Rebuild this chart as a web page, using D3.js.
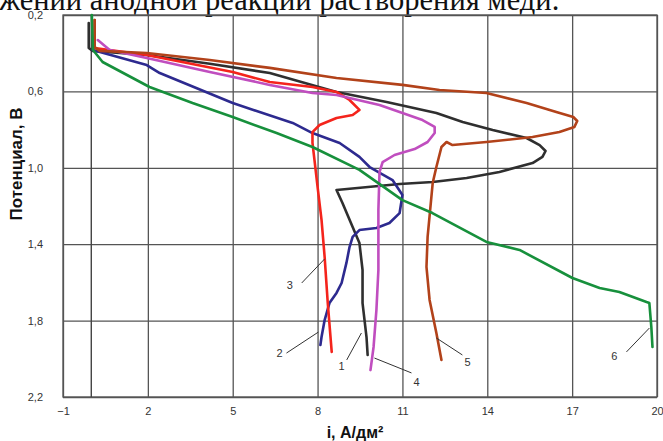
<!DOCTYPE html>
<html>
<head>
<meta charset="utf-8">
<script src="https://cdn.jsdelivr.net/npm/d3@7"></script>
<style>
    body { margin: 0; background: #fff; }
    svg { display: block; }
</style>
</head>
<body>
<div id="chart"></div>
<script>
// Анодные поляризационные кривые (i, E)

const xTicks = [-1, 2, 5, 8, 11, 14, 17, 20];
const yTicks = [0.2, 0.6, 1.0, 1.4, 1.8, 2.2];

// кривая 1 (чёрная)
const curve1 = [
    [-0.09, 0.242], [-0.09, 0.373], [0.05, 0.388], [1.96, 0.409], [4.19, 0.455],
    [6.31, 0.504], [8.67, 0.603], [10.44, 0.655], [12.2, 0.713], [13.13, 0.76],
    [14.19, 0.802], [15.39, 0.844], [15.85, 0.881], [16.06, 0.912], [15.95, 0.943],
    [15.6, 0.975], [14.43, 1.022], [13.27, 1.053], [12.07, 1.074], [10.9, 1.085],
    [8.67, 1.116], [8.88, 1.184], [9.24, 1.31], [9.48, 1.394], [9.59, 1.535],
    [9.59, 1.708], [9.73, 1.886], [9.77, 1.98]
];
// кривая 2 (синяя)
const curve2 = [
    [0.05, 0.383], [1.96, 0.462], [2.42, 0.504], [5.0, 0.661], [7.12, 0.765],
    [7.82, 0.818], [8.78, 0.87], [9.48, 0.943], [9.84, 0.996], [10.65, 1.064],
    [11.0, 1.142], [10.9, 1.237], [10.54, 1.289], [10.08, 1.315], [9.48, 1.326],
    [9.24, 1.362], [9.13, 1.415], [9.02, 1.498], [8.85, 1.603], [8.67, 1.655],
    [8.42, 1.708], [8.25, 1.797], [8.14, 1.886], [8.1, 1.928]
];
// кривая 3 (красная)
const curve3 = [
    [0.12, 0.226], [0.12, 0.373], [1.96, 0.409], [5.0, 0.498], [6.31, 0.551],
    [7.82, 0.577], [8.67, 0.603], [9.13, 0.645], [9.48, 0.697], [9.24, 0.724],
    [8.67, 0.739], [8.07, 0.776], [7.82, 0.813], [7.82, 0.87], [7.89, 0.959],
    [8.0, 1.1], [8.14, 1.273], [8.25, 1.467], [8.36, 1.708], [8.5, 1.964]
];
// кривая 4 (сиреневая)
const curve4 = [
    [0.23, 0.331], [0.65, 0.383], [1.96, 0.425], [4.19, 0.498], [6.31, 0.566],
    [7.82, 0.608], [8.67, 0.619], [10.19, 0.671], [11.71, 0.75], [12.14, 0.786],
    [12.14, 0.818], [11.89, 0.865], [11.43, 0.902], [10.72, 0.933], [10.3, 0.97],
    [10.19, 1.022], [10.15, 1.221], [10.15, 1.535], [10.08, 1.745], [9.98, 1.938],
    [9.87, 2.059]
];
// кривая 5 (коричневая)
const curve5 = [
    [0.12, 0.226], [0.12, 0.368], [0.3, 0.388], [1.96, 0.399], [4.19, 0.436],
    [6.31, 0.477], [8.67, 0.53], [11.0, 0.566], [12.31, 0.593], [13.97, 0.608],
    [15.39, 0.661], [16.44, 0.708], [17.04, 0.734], [17.18, 0.755], [17.08, 0.786],
    [16.55, 0.813], [15.6, 0.839], [13.97, 0.865], [12.77, 0.881], [12.56, 0.865],
    [12.38, 0.891], [12.2, 0.996], [12.07, 1.08], [11.89, 1.362], [11.85, 1.519],
    [11.96, 1.692], [12.2, 1.865], [12.38, 2.006]
];
// кривая 6 (зелёная)
const curve6 = [
    [0.02, 0.2], [0.06, 0.383], [0.4, 0.446], [2.06, 0.577], [3.58, 0.661],
    [5.0, 0.734], [6.55, 0.818], [7.82, 0.891], [9.48, 1.011], [11.0, 1.169],
    [12.06, 1.237], [13.97, 1.388], [15.14, 1.43], [17.01, 1.577], [17.97, 1.629],
    [18.67, 1.65], [19.63, 1.703], [19.73, 1.708], [19.8, 1.834], [19.84, 1.938]
];

// подписи кривых: номер, точка текста, выноска (в единицах осей)
const curveLabels = [
    { name: '3', at: [7.02, 1.619], from: [7.44, 1.603], to: [8.25, 1.477] },
    { name: '2', at: [6.66, 1.975], from: [6.9, 1.97], to: [8.03, 1.86] },
    { name: '1', at: [8.85, 2.043], from: [9.03, 2.006], to: [9.55, 1.865] },
    { name: '4', at: [11.5, 2.127], from: [10.01, 1.996], to: [11.32, 2.074] },
    { name: '5', at: [13.3, 2.022], from: [12.2, 1.891], to: [13.12, 1.98] },
    { name: '6', at: [18.49, 1.99], from: [18.92, 1.964], to: [19.73, 1.839] }
];

const series = [
    { id: 1, data: curve1, color: '#2f2f2f' },
    { id: 2, data: curve2, color: '#2d2a8f' },
    { id: 3, data: curve3, color: '#f4241c' },
    { id: 4, data: curve4, color: '#c04ebf' },
    { id: 5, data: curve5, color: '#b2421a' },
    { id: 6, data: curve6, color: '#17903c' }
];

function drawChart() {
    const width = 663;
    const height = 441;
    const margin = { top: 15, right: 6, bottom: 44, left: 63 };

    const svg = d3.select('#chart').append('svg')
        .attr('width', width)
        .attr('height', height);

    const xScale = d3.scaleLinear()
        .domain([-1, 20])
        .range([margin.left, width - margin.right]);

    const yScale = d3.scaleLinear()
        .domain([0.2, 2.2])
        .range([margin.top, height - margin.bottom]);

    const fmt = d => d3.format('.1f')(d).replace('.', ',');

    // обрезанная строка текста над графиком
    svg.append('text')
        .attr('x', -1)
        .attr('y', 10)
        .attr('font-family', '"Liberation Serif", "Times New Roman", serif')
        .attr('font-size', '30.5px')
        .attr('fill', '#111')
        .text('жении анодной реакции растворения меди.');

    // сетка
    svg.append('g')
        .attr('transform', `translate(0, ${height - margin.bottom})`)
        .call(d3.axisBottom(xScale).tickValues(xTicks).tickSize(-(height - margin.top - margin.bottom)).tickFormat(''))
        .call(g => g.select('.domain').remove())
        .selectAll('line')
        .attr('stroke', '#555')
        .attr('stroke-width', 1.3);

    svg.append('g')
        .attr('transform', `translate(${margin.left}, 0)`)
        .call(d3.axisLeft(yScale).tickValues(yTicks).tickSize(-(width - margin.left - margin.right)).tickFormat(''))
        .call(g => g.select('.domain').remove())
        .selectAll('line')
        .attr('stroke', '#555')
        .attr('stroke-width', 1.3);

    // рамка
    svg.append('rect')
        .attr('x', xScale(-1))
        .attr('y', yScale(0.2))
        .attr('width', xScale(20) - xScale(-1))
        .attr('height', yScale(2.2) - yScale(0.2))
        .attr('fill', 'none')
        .attr('stroke', '#555')
        .attr('stroke-width', 1.3);

    // вертикальная ось при i = 0
    svg.append('line')
        .attr('x1', xScale(0))
        .attr('x2', xScale(0))
        .attr('y1', yScale(0.2))
        .attr('y2', yScale(2.2))
        .attr('stroke', '#444')
        .attr('stroke-width', 1.4);

    // подписи делений
    const xAxis = svg.append('g')
        .attr('transform', `translate(0, ${height - margin.bottom})`)
        .call(d3.axisBottom(xScale).tickValues(xTicks).tickSize(0).tickPadding(10).tickFormat(d3.format('d')));
    xAxis.select('.domain').remove();
    xAxis.selectAll('text')
        .attr('fill', '#333')
        .style('font-family', '"Liberation Sans", Arial, sans-serif')
        .style('font-size', '11px');

    const yAxis = svg.append('g')
        .attr('transform', `translate(${margin.left}, 0)`)
        .call(d3.axisLeft(yScale).tickValues(yTicks).tickSize(0).tickPadding(20).tickFormat(fmt));
    yAxis.select('.domain').remove();
    yAxis.selectAll('text')
        .attr('fill', '#333')
        .style('font-family', '"Liberation Sans", Arial, sans-serif')
        .style('font-size', '11px');

    // кривые
    const line = d3.line()
        .x(d => xScale(d[0]))
        .y(d => yScale(d[1]));

    svg.selectAll('.curve')
        .data(series)
        .enter()
        .append('path')
        .attr('class', 'curve')
        .attr('d', d => line(d.data))
        .attr('fill', 'none')
        .attr('stroke', d => d.color)
        .attr('stroke-width', 2.6)
        .attr('stroke-linejoin', 'round')
        .attr('stroke-linecap', 'round');

    // выноски и номера кривых
    svg.selectAll('.leader')
        .data(curveLabels)
        .enter()
        .append('line')
        .attr('class', 'leader')
        .attr('x1', d => xScale(d.from[0]))
        .attr('y1', d => yScale(d.from[1]))
        .attr('x2', d => xScale(d.to[0]))
        .attr('y2', d => yScale(d.to[1]))
        .attr('stroke', '#333')
        .attr('stroke-width', 1);

    svg.selectAll('.curve-label')
        .data(curveLabels)
        .enter()
        .append('text')
        .attr('class', 'curve-label')
        .attr('x', d => xScale(d.at[0]))
        .attr('y', d => yScale(d.at[1]))
        .attr('text-anchor', 'middle')
        .attr('dominant-baseline', 'middle')
        .attr('fill', '#333')
        .attr('font-family', '"Liberation Sans", Arial, sans-serif')
        .attr('font-size', '11px')
        .text(d => d.name);

    // названия осей
    svg.append('text')
        .attr('transform', 'translate(22, 164) rotate(-90)')
        .attr('text-anchor', 'middle')
        .attr('fill', '#111')
        .attr('font-family', '"Liberation Sans", Arial, sans-serif')
        .attr('font-size', '17px')
        .attr('font-weight', 'bold')
        .text('Потенциал, В');

    svg.append('text')
        .attr('x', 355)
        .attr('y', 438)
        .attr('text-anchor', 'middle')
        .attr('fill', '#111')
        .attr('font-family', '"Liberation Sans", Arial, sans-serif')
        .attr('font-size', '16px')
        .attr('font-weight', 'bold')
        .text('i, А/дм²');
}

drawChart();
</script>
</body>
</html>
